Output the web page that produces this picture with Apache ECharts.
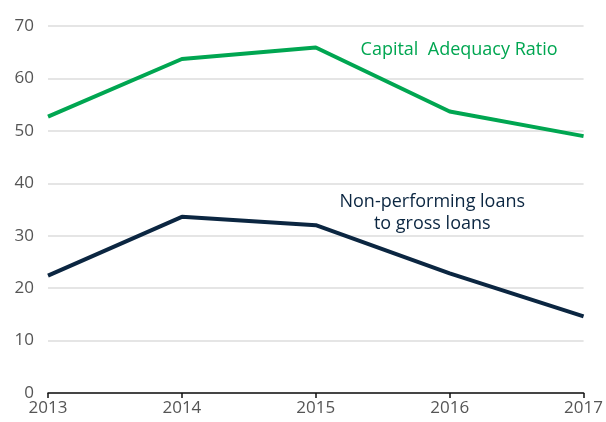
<!DOCTYPE html>
<html>
<head>
<meta charset="utf-8">
<script src="https://cdn.jsdelivr.net/npm/echarts@6/dist/echarts.min.js"></script>
<style>
  html, body { margin: 0; padding: 0; background: #fff; }
  #chart { width: 606px; height: 422px; }
</style>
</head>
<body>
<div id="chart"></div>
<script>
const years = ['2013', '2014', '2015', '2016', '2017'];
const capitalAdequacy = [52.7, 63.7, 65.9, 53.7, 49.0];
const nonPerforming = [22.4, 33.6, 32.0, 22.8, 14.6];

const green = '#00A651';
const navy = '#0B2641';
const font = '"Open Sans", "Noto Sans", sans-serif';

const chart = echarts.init(document.getElementById('chart'));

chart.setOption({
  animation: false,
  grid: { left: 48, right: 20, top: 26, bottom: 29 },
  xAxis: {
    type: 'category',
    data: years,
    boundaryGap: false,
    axisLine: { lineStyle: { color: '#111', width: 1.5 } },
    axisTick: { show: true, length: 5, lineStyle: { color: '#111', width: 1.5 } },
    axisLabel: { color: '#555', fontSize: 17, fontFamily: font, margin: 7 }
  },
  yAxis: {
    type: 'value',
    min: 0,
    max: 70,
    interval: 10,
    axisLine: { show: false },
    axisTick: { show: false },
    axisLabel: { color: '#555', fontSize: 17, fontFamily: font, margin: 14 },
    splitLine: { lineStyle: { color: '#dcdcdc', width: 1.5 } }
  },
  series: [
    {
      name: 'Capital Adequacy Ratio',
      type: 'line',
      data: capitalAdequacy,
      symbol: 'none',
      lineStyle: { color: green, width: 4 }
    },
    {
      name: 'Non-performing loans to gross loans',
      type: 'line',
      data: nonPerforming,
      symbol: 'none',
      lineStyle: { color: navy, width: 4 }
    }
  ]
});

// category axis snaps to whole indices, so interpolate between them
function toPixel(idx, value) {
  const i0 = Math.floor(idx);
  const a = chart.convertToPixel({ xAxisIndex: 0, yAxisIndex: 0 }, [i0, value]);
  const b = chart.convertToPixel({ xAxisIndex: 0, yAxisIndex: 0 }, [i0 + 1, value]);
  return [a[0] + (b[0] - a[0]) * (idx - i0), a[1]];
}

const capPos = toPixel(3.07, 65.4);
const npPos = toPixel(2.87, 34.3);

chart.setOption({
  graphic: [
    {
      type: 'text',
      x: capPos[0],
      y: capPos[1],
      style: {
        text: 'Capital  Adequacy Ratio',
        fill: green,
        font: '18px ' + font,
        textAlign: 'center',
        textVerticalAlign: 'middle'
      }
    },
    {
      type: 'text',
      x: npPos[0],
      y: npPos[1],
      style: {
        text: 'Non-performing loans\nto gross loans',
        fill: navy,
        font: '18px ' + font,
        lineHeight: 22,
        textAlign: 'center',
        textVerticalAlign: 'middle'
      }
    }
  ]
});
</script>
</body>
</html>
